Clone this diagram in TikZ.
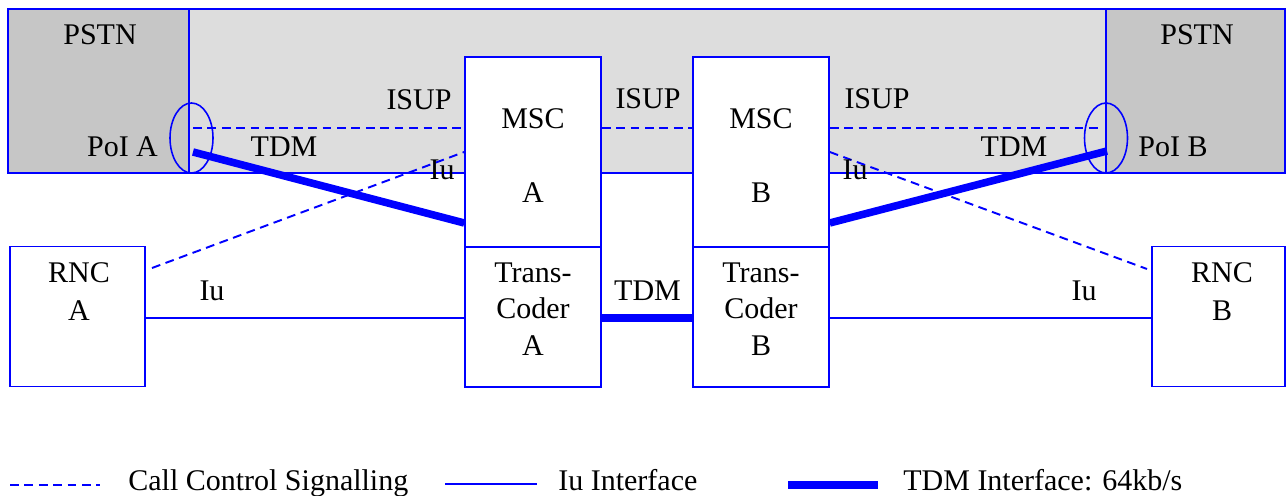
\documentclass[tikz,border=0pt]{standalone}
\usepackage{fontspec}
\setmainfont{Liberation Serif}
\usetikzlibrary{shapes.geometric}
\definecolor{lgray}{HTML}{DDDDDD}
\definecolor{dgray}{HTML}{C6C6C6}
\begin{document}
\begin{tikzpicture}[x=0.02cm,y=-0.02cm,
  lbl/.style={inner sep=0pt, anchor=base, font=\fontsize{17.07}{20.5}\selectfont},
  lgd/.style={lbl, anchor=base west},
  box/.style={draw=blue, line width=0.9pt, fill=white, inner sep=0pt},
  area/.style={draw=blue, line width=0.9pt, inner sep=0pt, minimum height=3.28cm},
  poi/.style={draw=blue, line width=0.9pt, ellipse, inner sep=0pt, minimum width=0.86cm, minimum height=1.4cm},
  sig/.style={draw=blue, line width=1.1pt, dash pattern=on 5pt off 3.2pt},
  iu/.style={draw=blue, line width=1.3pt},
  tdm/.style={draw=blue, line width=4.3pt},
]
\useasboundingbox (0,0) rectangle (1287,496);

% grey areas
\node[area, fill=lgray, minimum width=25.54cm] (core) at (646.5,91) {};
\node[area, fill=dgray, minimum width=3.62cm] (pstnA) at (98.5,91) {};
\node[area, fill=dgray, minimum width=3.58cm] (pstnB) at (1195.5,91) {};
\node[poi] (poiA) at (191.5,138) {};
\node[poi] (poiB) at (1106,138) {};

% boxes
\node[box, minimum width=2.72cm, minimum height=3.8cm] (mscA) at (533,152) {};
\node[box, minimum width=2.72cm, minimum height=2.8cm] (tcA) at (533,317) {};
\node[box, minimum width=2.72cm, minimum height=3.8cm] (mscB) at (761,152) {};
\node[box, minimum width=2.72cm, minimum height=2.8cm] (tcB) at (761,317) {};
\node[box, minimum width=2.7cm, minimum height=2.8cm] (rncA) at (77.5,316.5) {};
\node[box, minimum width=2.66cm, minimum height=2.8cm] (rncB) at (1218.5,316.5) {};

% coordinates for connector ends
\coordinate (isA) at (193,128);
\coordinate (isB) at (1099,128);
\coordinate (tdA) at (193,152);
\coordinate (tdB) at (1107,151);
\coordinate (iuA) at (152,268);
\coordinate (iuB) at (1147,269);

% ISUP signalling
\draw[sig] (isA) -- (mscA.west |- isA);
\draw[sig] (mscA.east |- isA) -- (mscB.west |- isA);
\draw[sig] (mscB.east |- isA) -- (isB);
% Iu signalling
\draw[sig] (iuA) -- (mscA.west |- 0,152);
\draw[sig] (mscB.east |- 0,152) -- (iuB);
% TDM to PSTN
\draw[tdm] (tdA) -- (mscA.west |- 0,223);
\draw[tdm] (mscB.east |- 0,223) -- (tdB);
% Iu interface
\draw[iu] (rncA.east |- 0,318) -- (tcA.west |- 0,318);
\draw[iu] (tcB.east |- 0,318) -- (rncB.west |- 0,318);
% TDM between transcoders
\draw[tdm] (tcA.east |- 0,318) -- (tcB.west |- 0,318);

% labels
\node[lbl] (lpA) at (100,45) {PSTN};
\node[lbl] (lpB) at (1197,45) {PSTN};
\node[lbl] (is1) at (419,110) {ISUP};
\node[lbl] (is2) at (648,109) {ISUP};
\node[lbl] (is3) at (877,109) {ISUP};
\node[lbl] (lpoiA) at (122.5,157) {PoI A};
\node[lbl] (lpoiB) at (1173,157) {PoI B};
\node[lbl] (td1) at (284,157) {TDM};
\node[lbl] (td2) at (1014,157) {TDM};
\node[lbl] (iu1) at (442,180) {Iu};
\node[lbl] (iu2) at (855,180) {Iu};
\node[lbl] (mA1) at (533,129) {MSC};
\node[lbl] (mA2) at (533,203) {A};
\node[lbl] (mB1) at (761,129) {MSC};
\node[lbl] (mB2) at (761,203) {B};
\node[lbl] (tA1) at (533,283) {Trans-};
\node[lbl] (tA2) at (533,318) {Coder};
\node[lbl] (tA3) at (533,356) {A};
\node[lbl] (tB1) at (761,283) {Trans-};
\node[lbl] (tB2) at (761,318) {Coder};
\node[lbl] (tB3) at (761,356) {B};
\node[lbl] (td3) at (647.5,300) {TDM};
\node[lbl] (iu3) at (212,300) {Iu};
\node[lbl] (iu4) at (1084,300) {Iu};
\node[lbl] (rA1) at (79,283) {RNC};
\node[lbl] (rA2) at (79,320) {A};
\node[lbl] (rB1) at (1222,283) {RNC};
\node[lbl] (rB2) at (1222,320) {B};

% legend
\coordinate (l1a) at (10,485);
\coordinate (l1b) at (100,485);
\coordinate (l2a) at (445,484);
\coordinate (l2b) at (537,484);
\coordinate (l3a) at (788,485);
\coordinate (l3b) at (878,485);
\draw[sig] (l1a) -- (l1b);
\draw[iu] (l2a) -- (l2b);
\draw[tdm] (l3a) -- (l3b);
\node[lgd] (g1) at (128,490) {Call Control Signalling};
\node[lgd] (g2) at (558,490) {Iu Interface};
\node[lgd] (g3) at (903,490) {TDM Interface: 64kb/s};
\end{tikzpicture}
\end{document}
